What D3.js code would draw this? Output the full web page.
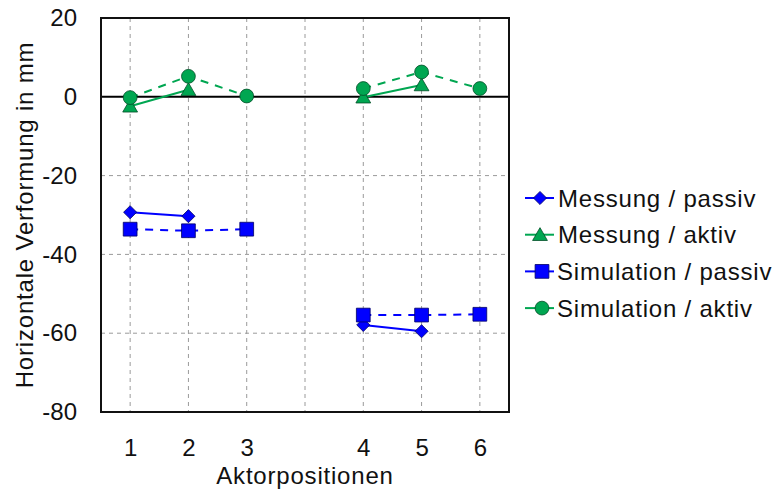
<!DOCTYPE html>
<html>
<head>
<meta charset="utf-8">
<script src="https://cdn.jsdelivr.net/npm/d3@7"></script>
<style>
  html, body { margin: 0; padding: 0; background: #fff; }
  svg { display: block; font-family: "Liberation Sans", Arial, Helvetica, sans-serif; }
</style>
</head>
<body>
<svg id="chart" width="781" height="497"></svg>
<script>
// Grid slots along the x axis (slot 4 is an empty separator column)
const slots = [1, 2, 3, 4, 5, 6, 7];
const slotLabels = ["1", "2", "3", "", "4", "5", "6"];
const yTicks = [20, 0, -20, -40, -60, -80];

// Horizontal deformation in mm per slot (null = no value)
const messungPassiv    = [-29.3, -30.3, null, null, -57.9, -59.5, null];
const messungAktiv     = [-2.4, 1.8, null, null, -0.1, 3.0, null];
const simulationPassiv = [-33.6, -34.0, -33.6, null, -55.4, -55.4, -55.2];
const simulationAktiv  = [-0.2, 5.2, 0.2, null, 2.1, 6.3, 2.1];

const blue = "#0000ff";
const green = "#00a651";
const textColor = "#111";
const fontSize = 24;
const spacing = "0.8px";

const series = [
  { name: "Messung / passiv",    values: messungPassiv,    color: blue,  dash: null,  shape: "diamond" },
  { name: "Messung / aktiv",     values: messungAktiv,     color: green, dash: null,  shape: "triangle" },
  { name: "Simulation / passiv", values: simulationPassiv, color: blue,  dash: "8,7", shape: "square" },
  { name: "Simulation / aktiv",  values: simulationAktiv,  color: green, dash: "8,7", shape: "circle" }
];

const svg = d3.select("#chart");
const plot = { left: 101, right: 509, top: 18, bottom: 412 };

const x = d3.scaleLinear().domain([0.5, 7.5]).range([plot.left, plot.right]);
const y = d3.scaleLinear().domain([-80, 20]).range([plot.bottom, plot.top]);

// Dashed grid
const grid = svg.append("g").attr("stroke", "#9a9a9a").attr("stroke-width", 1).attr("stroke-dasharray", "4,4");
grid.selectAll("line.v").data(slots).join("line")
  .attr("x1", d => x(d)).attr("x2", d => x(d))
  .attr("y1", plot.top).attr("y2", plot.bottom);
grid.selectAll("line.h").data(yTicks.filter(d => d !== 20 && d !== -80 && d !== 0)).join("line")
  .attr("x1", plot.left).attr("x2", plot.right)
  .attr("y1", d => y(d)).attr("y2", d => y(d));

// Zero line
svg.append("line")
  .attr("x1", plot.left).attr("x2", plot.right)
  .attr("y1", y(0)).attr("y2", y(0))
  .attr("stroke", "#000").attr("stroke-width", 2);

// Axes (labels only; the frame is drawn separately)
const yAxis = d3.axisLeft(y).tickValues(yTicks).tickSize(0).tickPadding(24).tickFormat(d => String(d));
svg.append("g").attr("transform", `translate(${plot.left},0)`).call(yAxis)
  .call(g => g.select(".domain").remove())
  .call(g => g.selectAll("text").attr("font-size", fontSize).attr("fill", textColor)
    .attr("font-family", "'Liberation Sans', Arial, sans-serif"));

const xAxis = d3.axisBottom(x).tickValues(slots).tickSize(0).tickPadding(27)
  .tickFormat((d, i) => slotLabels[i]);
svg.append("g").attr("transform", `translate(0,${plot.bottom})`).call(xAxis)
  .call(g => g.select(".domain").remove())
  .call(g => g.selectAll("text").attr("font-size", fontSize).attr("fill", textColor)
    .attr("font-family", "'Liberation Sans', Arial, sans-serif"));

// Frame
svg.append("rect")
  .attr("x", plot.left).attr("y", plot.top)
  .attr("width", plot.right - plot.left).attr("height", plot.bottom - plot.top)
  .attr("fill", "none").attr("stroke", textColor).attr("stroke-width", 2);

// Axis titles
svg.append("text")
  .attr("transform", `translate(33,${(plot.top + plot.bottom) / 2}) rotate(-90)`)
  .attr("text-anchor", "middle").attr("font-size", fontSize).attr("fill", textColor)
  .attr("letter-spacing", spacing)
  .text("Horizontale Verformung in mm");
svg.append("text")
  .attr("x", x(4)).attr("y", 484)
  .attr("text-anchor", "middle").attr("font-size", fontSize).attr("fill", textColor)
  .attr("letter-spacing", spacing)
  .text("Aktorpositionen");

// Marker symbols
function symbolPath(shape) {
  switch (shape) {
    case "diamond":  return d3.symbol().type(d3.symbolDiamond2).size(110)();
    case "triangle": return d3.symbol().type(d3.symbolTriangle).size(95)();
    case "square":   return d3.symbol().type(d3.symbolSquare).size(190)();
    default:         return d3.symbol().type(d3.symbolCircle).size(150)();
  }
}
function markerStroke(color) { return color === blue ? "#000066" : "#004d26"; }

// Series lines and markers
series.forEach(s => {
  const pts = slots.map((sl, i) => ({ x: sl, v: s.values[i] }));
  const line = d3.line().defined(d => d.v !== null).x(d => x(d.x)).y(d => y(d.v));
  svg.append("path").datum(pts)
    .attr("d", line).attr("fill", "none")
    .attr("stroke", s.color).attr("stroke-width", 2)
    .attr("stroke-dasharray", s.dash);
  const triOffset = s.shape === "triangle" ? 1.5 : 0;
  svg.append("g").selectAll("path").data(pts.filter(d => d.v !== null)).join("path")
    .attr("d", symbolPath(s.shape))
    .attr("transform", d => `translate(${x(d.x)},${y(d.v) + triOffset})`)
    .attr("fill", s.color).attr("stroke", markerStroke(s.color)).attr("stroke-width", 0.8);
});

// Legend
const legend = svg.append("g").attr("transform", "translate(525,198)");
series.forEach((s, i) => {
  const g = legend.append("g").attr("transform", `translate(0,${i * 36.7})`);
  g.append("line").attr("x1", 0).attr("x2", 29).attr("y1", 0).attr("y2", 0)
    .attr("stroke", s.color).attr("stroke-width", 2);
  g.append("path").attr("d", symbolPath(s.shape))
    .attr("transform", `translate(${s.shape === "square" || s.shape === "circle" ? 17 : 15},${s.shape === "triangle" ? 1.5 : 0})`)
    .attr("fill", s.color).attr("stroke", markerStroke(s.color)).attr("stroke-width", 0.8);
  g.append("text").attr("x", s.shape === "square" || s.shape === "circle" ? 32 : 33).attr("y", 8.5)
    .attr("font-size", fontSize).attr("fill", textColor)
    .attr("letter-spacing", spacing)
    .text(s.name);
});
</script>
</body>
</html>
